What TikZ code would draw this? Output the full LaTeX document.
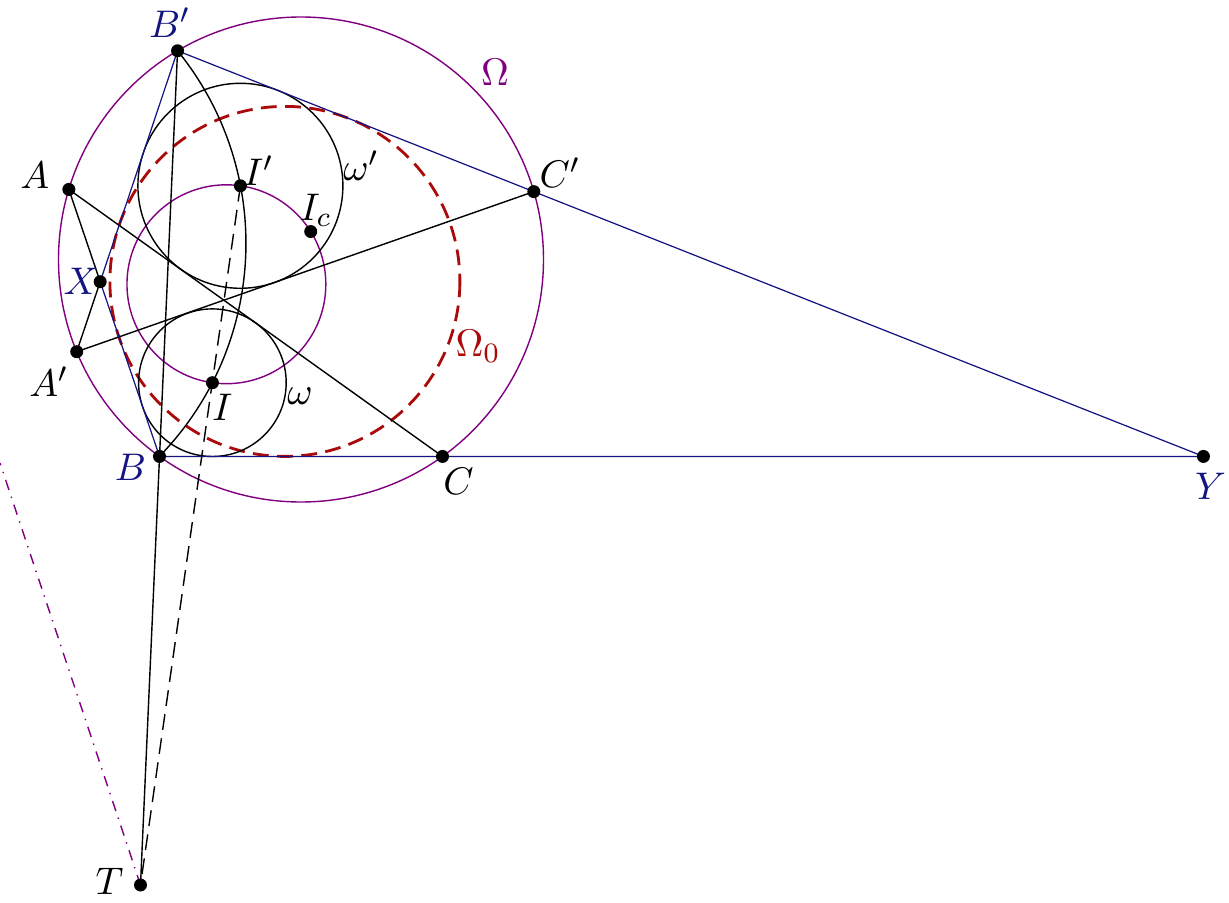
\documentclass[tikz,border=0pt]{standalone}
\usetikzlibrary{calc}
\definecolor{navy}{RGB}{20,20,130}
\definecolor{pcirc}{RGB}{128,0,128}
\definecolor{dred}{RGB}{170,10,10}
\begin{document}
\begin{tikzpicture}[x=0.01cm,y=-0.01cm,
    font=\fontsize{11}{13}\selectfont,
    lbl/.style={inner sep=0pt},
    bluelbl/.style={inner sep=0pt,text=navy},
    sides/.style={navy,line width=0.35pt},
    dashline/.style={dash pattern=on 4.5pt off 2.4pt}]
    \useasboundingbox (0,0) rectangle (1229,903);
    %% Circle Omega and its points
    \coordinate (O) at (301,259.5);
    \coordinate (A) at ($(O)+(196.8:242.5)$);
    \coordinate (B) at ($(O)+(125.7:242.5)$);
    \coordinate (C) at ($(O)+(54.3:242.5)$);
    \coordinate (A1) at ($(O)+(157.65:242.5)$);
    \coordinate (B1) at ($(O)+(239.4:242.5)$);
    \coordinate (C1) at ($(O)+(343.75:242.5)$);
    \coordinate (X) at (intersection of A--B and A1--B1);
    \coordinate (Y) at (intersection of B--C and B1--C1);
    %% Incentres
    \coordinate (I) at (212.4,382.7);
    \coordinate (I1) at (240.4,185.8);
    \coordinate (P) at ($(I)!0.5!(I1)$);
    \coordinate (Ic) at ($(P)+(-32:99.44)$);
    \coordinate (T) at (140.5,885);
    \coordinate (R0) at (0,463);
    %% Circles
    \draw[pcirc] (O) circle (242.5);
    \draw[pcirc] (P) circle (99.44);
    \draw[dred,thick,dashline] (284.9,281.4) circle (175);
    \draw (I) circle (73.8);
    \draw (I1) circle (102.5);
    \draw (B1) arc[start angle=-39.1,end angle=44.2,radius=305.4];
    %% Lines
    \draw (A) -- (C);
    \draw (A1) -- (C1);
    \draw (A) -- (X) -- (A1);
    \draw[sides] (B1) -- (X) -- (B) -- (Y) -- cycle;
    \draw (B1) -- (T);
    \draw[dashline] (I1) -- (T);
    \draw[pcirc,dash dot] (T) -- (R0);
    %% Points
    \foreach \p in {A,B,C,A1,B1,C1,X,Y,I,I1,Ic,T}
        \fill (\p) circle (6.5);
    %% Labels
    \node[bluelbl] at ($(B1)+(-8,-28)$) {$B'$};
    \node[lbl] at ($(A)+(-34,-14)$) {$A$};
    \node[bluelbl] at ($(X)+(-19,0)$) {$X$};
    \node[lbl] at ($(A1)+(-28,30)$) {$A'$};
    \node[bluelbl] at ($(B)+(-29,11)$) {$B$};
    \node[lbl] at ($(C)+(16,25)$) {$C$};
    \node[lbl] at ($(C1)+(26,-19)$) {$C'$};
    \node[bluelbl] at ($(Y)+(7,30)$) {$Y$};
    \node[lbl] at ($(I)+(10,25)$) {$I$};
    \node[lbl] at ($(I1)+(18,-15)$) {$I'$};
    \node[lbl] at ($(Ic)+(5,-21)$) {$I_c$};
    \node[lbl] at ($(T)+(-31,-4)$) {$T$};
    \node[lbl] at (300,396) {$\omega$};
    \node[lbl] at (361,166) {$\omega'$};
    \node[lbl,text=pcirc] at (495,72) {$\Omega$};
    \node[lbl,text=dred] at (478,346) {$\Omega_0$};
\end{tikzpicture}
\end{document}
